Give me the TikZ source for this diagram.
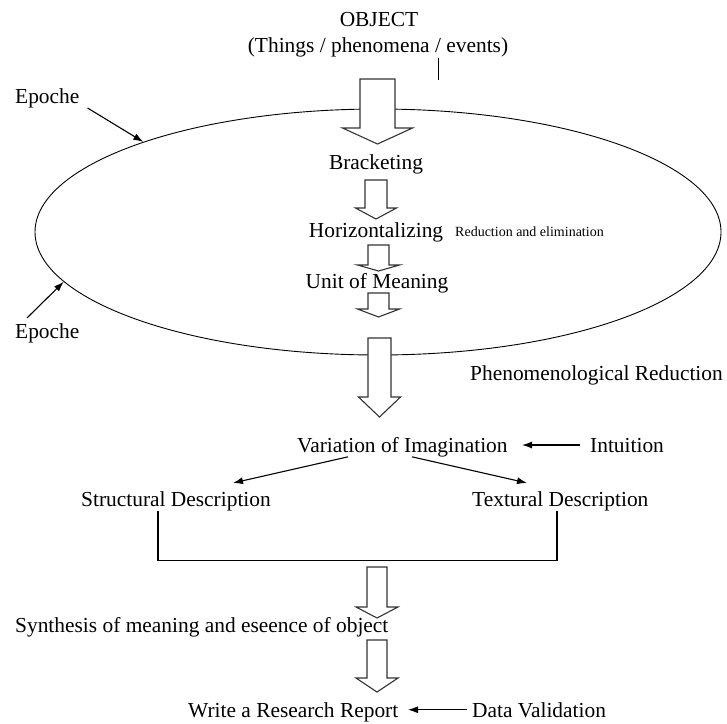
\documentclass[tikz,border=0pt]{standalone}
\usepackage{fontspec}
\setmainfont{Liberation Serif}
\usetikzlibrary{shapes.geometric,arrows.meta}
\tikzset{
  lbl/.style={inner sep=0pt, font=\fontsize{21.4}{26}\selectfont},
  note/.style={inner sep=0pt, font=\fontsize{14}{17}\selectfont},
  conn/.style={line width=1.1pt, -{Latex[length=10pt,width=7pt]}},
  blk/.style={draw=black!80, fill=white, line width=1.1pt, line join=miter},
  brk/.style={line width=1.1pt}
}
\begin{document}
\begin{tikzpicture}[x=1pt,y=-1pt]
  \useasboundingbox (0,0) rectangle (727,723);
  \node[lbl, anchor=base] (obj) at (379,26) {OBJECT};
  \node[lbl, anchor=base] (thg) at (378,52) {(Things / phenomena / events)};
  \draw[line width=0.9pt] (438,58) -- (438,80);
  % phenomenological reduction
  \node[draw, ellipse, line width=0.9pt, minimum width=686pt, minimum height=246pt, inner sep=0pt] (redu) at (378,232) {};
  \node[lbl, anchor=base west] (ep1) at (15,103) {Epoche};
  \node[lbl, anchor=base west] (ep2) at (15,338) {Epoche};
  \draw[conn] ([xshift=8pt,yshift=-5pt]ep1.base east) -- (redu.159);
  \draw[conn] ([xshift=12pt,yshift=5pt]ep2.north west) -- (redu.189);
  \node[lbl, anchor=base] (brc) at (376,169) {Bracketing};
  \node[lbl, anchor=base] (hor) at (376,237) {Horizontalizing};
  \node[note, anchor=base west] (rde) at (455,236) {Reduction and elimination};
  \node[lbl, anchor=base] (uom) at (377,288) {Unit of Meaning};
  \node[lbl, anchor=base west] (phr) at (470,380) {Phenomenological Reduction};
  % block arrows: x / top / neck / tip / half body / half head
  \foreach \x/\t/\n/\p/\b/\h in {377.5/79/128/144/17.5/35, 376/180/208/219/11/20.5,
      378.5/245/265/271/10.5/21, 378.5/293/309/317/10.5/21, 379.5/338/397/417/11.5/21,
      377/567/607/618/10/21, 377/640/678/692/10/21}
    \draw[blk] ({\x-\b},\t) -- ({\x+\b},\t) -- ({\x+\b},\n) -- ({\x+\h},\n)
      -- (\x,\p) -- ({\x-\h},\n) -- ({\x-\b},\n) -- cycle;
  % imagination
  \node[lbl, anchor=base west] (var) at (297,452) {Variation of Imagination};
  \node[lbl, anchor=base west] (int) at (590,452) {Intuition};
  \draw[conn] ([xshift=-10pt]int.west) -- ++(-58,0);
  \node[lbl, anchor=base west] (str) at (81,506) {Structural Description};
  \node[lbl, anchor=base west] (tex) at (472,506) {Textural Description};
  \draw[conn] ([xshift=51pt]var.south west) -- ([xshift=152pt,yshift=8pt]str.north west);
  \draw[conn] ([xshift=115pt]var.south west) -- ([xshift=55pt,yshift=8pt]tex.north west);
  \draw[brk] ([xshift=77pt]str.south west) |- ([xshift=85pt,yshift=-50pt]tex.south west)
    -- ([xshift=85pt]tex.south west);
  % synthesis and report
  \node[lbl, anchor=base west] (syn) at (15,632) {Synthesis of meaning and eseence of object};
  \node[lbl, anchor=base west] (wrr) at (188,717) {Write a Research Report};
  \node[lbl, anchor=base west] (dav) at (472,717) {Data Validation};
  \draw[conn] ([xshift=-5pt]dav.west) -- ++(-59,0);
\end{tikzpicture}
\end{document}
